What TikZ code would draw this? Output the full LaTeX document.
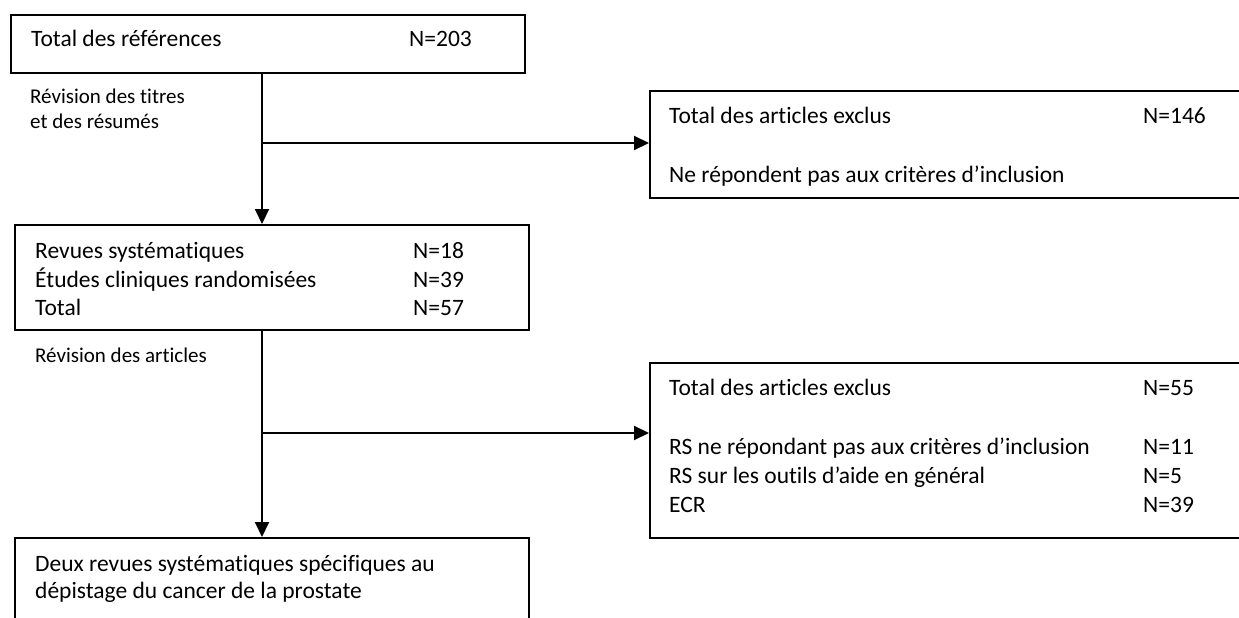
\documentclass[tikz,border=0pt]{standalone}
\usepackage{fontspec}
\setmainfont{Carlito}[Ligatures=NoCommon]
\usetikzlibrary{arrows.meta}
\begin{document}
\begin{tikzpicture}[x=1pt,y=-1pt,
  box/.style={draw, line width=2pt, inner sep=0pt, anchor=north west},
  txt/.style={anchor=base west, inner sep=0pt, font=\fontsize{23.5}{28}\selectfont},
  lbl/.style={anchor=base west, inner sep=0pt, font=\fontsize{21}{25}\selectfont},
  arr/.style={line width=2pt, -{Triangle[width=14pt,length=15pt]}}]
\useasboundingbox (0,0) rectangle (1239,618);
\clip (0,0) rectangle (1239,618);
% boxes
\node[box, minimum width=514pt, minimum height=58pt] (b1) at (10,14) {};
\node[box, minimum width=514pt, minimum height=105pt] (b2) at (14,224) {};
\node[box, minimum width=620pt, minimum height=107pt] (b3) at (649,90) {};
\node[box, minimum width=620pt, minimum height=175pt] (b4) at (649,362) {};
\node[box, minimum width=514pt, minimum height=110pt] (b5) at (14,537) {};
% junctions
\coordinate (j1) at (262,143);
\coordinate (j2) at (262,433);
\draw[arr] (b1.south -| j1) -- (b2.north -| j1);
\draw[arr] (j1) -- (j1 -| b3.west);
\draw[arr] (b2.south -| j2) -- (b5.north -| j2);
\draw[arr] (j2) -- (j2 -| b4.west);
% texts box 1
\node[txt] (t1) at (31,47) {Total des références};
\node[txt] (n1) at (409,47) {N=203};
% labels
\node[lbl] (l1a) at (30,103) {Révision des titres};
\node[lbl] (l1b) at (30,128) {et des résumés};
\node[lbl] (l2) at (35,362) {Révision des articles};
% box 2
\node[txt] (t2a) at (35,258) {Revues systématiques};
\node[txt] (t2b) at (35,287) {Études cliniques randomisées};
\node[txt] (t2c) at (35,315) {Total};
\node[txt] (n2a) at (413,258) {N=18};
\node[txt] (n2b) at (413,287) {N=39};
\node[txt] (n2c) at (413,315) {N=57};
% box 3
\node[txt] (t3a) at (669,123) {Total des articles exclus};
\node[txt] (n3a) at (1143,123) {N=146};
\node[txt] (t3b) at (669,182) {Ne répondent pas aux critères d’inclusion};
% box 4
\node[txt] (t4a) at (669,395) {Total des articles exclus};
\node[txt] (n4a) at (1143,395) {N=55};
\node[txt] (t4b) at (669,454) {RS ne répondant pas aux critères d’inclusion};
\node[txt] (n4b) at (1143,454) {N=11};
\node[txt] (t4c) at (669,483) {RS sur les outils d’aide en général};
\node[txt] (n4c) at (1143,483) {N=5};
\node[txt] (t4d) at (669,512) {ECR};
\node[txt] (n4d) at (1143,512) {N=39};
% box 5
\node[txt] (t5a) at (35,571) {Deux revues systématiques spécifiques au};
\node[txt] (t5b) at (35,598) {dépistage du cancer de la prostate};
\end{tikzpicture}
\end{document}
